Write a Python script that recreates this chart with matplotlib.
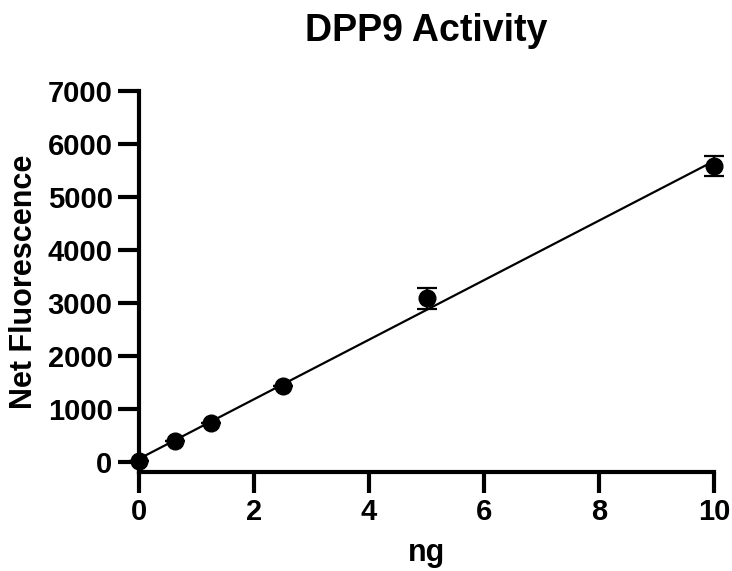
import numpy as np
import matplotlib
matplotlib.use("Agg")
import matplotlib.pyplot as plt

ng = [0, 0.625, 1.25, 2.5, 5, 10]
fluor = [10, 400, 730, 1430, 3090, 5580]
err = [0, 0, 0, 0, 200, 190]
xticks = [0, 2, 4, 6, 8, 10]
yticks = [0, 1000, 2000, 3000, 4000, 5000, 6000, 7000]

plt.rcParams['font.family'] = ['Liberation Sans', 'DejaVu Sans']
plt.rcParams['font.weight'] = 'bold'

fig = plt.figure(figsize=(7.32, 5.71), dpi=100)
ax = fig.add_axes([139/732, 1-472/571, (714-139)/732, (472-91)/571])

slope, intercept = np.polyfit(ng, fluor, 1)
xf = np.array([min(ng), max(ng)])
ax.plot(xf, slope*xf + intercept, color='black', lw=1.6, clip_on=False, zorder=2)
ax.errorbar(ng, fluor, yerr=err, fmt='o', color='black', ms=12, capsize=7,
            elinewidth=1.6, capthick=1.6, clip_on=False, zorder=3)

ax.set_xlim(0, 10)
ax.set_ylim(-190, 7000)
ax.set_xticks(xticks)
ax.set_yticks(yticks)
for s in ['top', 'right']:
    ax.spines[s].set_visible(False)
for s in ['left', 'bottom']:
    ax.spines[s].set_linewidth(3)
ax.tick_params(axis='both', width=3, length=15, labelsize=21, pad=4)
for lab in ax.get_xticklabels() + ax.get_yticklabels():
    lab.set_fontweight('bold')
ax.set_xlabel('ng', fontsize=22, fontweight='bold', labelpad=8)
ax.set_ylabel('Net Fluorescence', fontsize=22, fontweight='bold', labelpad=6)
ax.set_title('DPP9 Activity', fontsize=27, fontweight='bold', pad=36)

fig.savefig('out.png', dpi=100)
